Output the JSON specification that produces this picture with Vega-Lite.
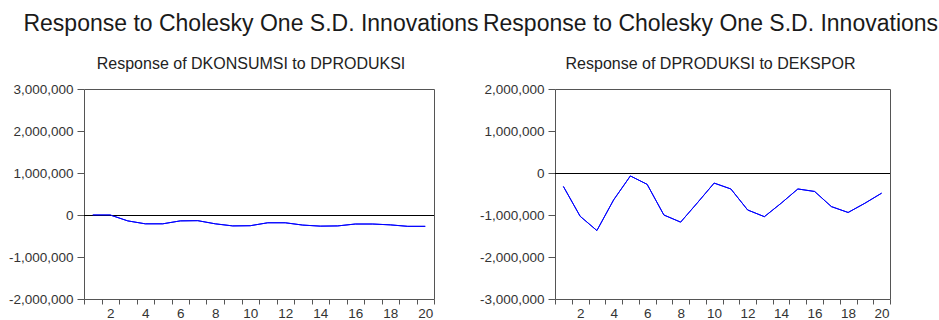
{
  "$schema": "https://vega.github.io/schema/vega-lite/v6.json",
  "background": "white",
  "padding": {"left": 7, "top": 12, "right": 2, "bottom": 0},
  "autosize": {"type": "pad"},
  "spacing": 121,
  "bounds": "flush",
  "config": {
    "font": "Liberation Sans",
    "view": {"stroke": "#555555", "strokeWidth": 1},
    "axis": {
      "grid": false,
      "domain": false,
      "labelFont": "Liberation Sans",
      "labelFontSize": 13.5,
      "labelColor": "#333333",
      "tickColor": "#555555",
      "title": null
    },
    "title": {
      "font": "Liberation Sans",
      "fontSize": 23,
      "fontWeight": "normal",
      "color": "#1a1a1a",
      "subtitleFont": "Liberation Sans",
      "subtitleFontSize": 16,
      "subtitleColor": "#222222",
      "anchor": "middle",
      "offset": 10,
      "subtitlePadding": 20
    }
  },
  "datasets": {
    "konsumsi": [
      {"period": 1, "response": 0},
      {"period": 2, "response": 0},
      {"period": 3, "response": -140000},
      {"period": 4, "response": -210000},
      {"period": 5, "response": -210000},
      {"period": 6, "response": -140000},
      {"period": 7, "response": -135000},
      {"period": 8, "response": -210000},
      {"period": 9, "response": -260000},
      {"period": 10, "response": -255000},
      {"period": 11, "response": -185000},
      {"period": 12, "response": -185000},
      {"period": 13, "response": -240000},
      {"period": 14, "response": -265000},
      {"period": 15, "response": -260000},
      {"period": 16, "response": -215000},
      {"period": 17, "response": -215000},
      {"period": 18, "response": -235000},
      {"period": 19, "response": -270000},
      {"period": 20, "response": -270000}
    ],
    "produksi": [
      {"period": 1, "response": -320000},
      {"period": 2, "response": -1030000},
      {"period": 3, "response": -1370000},
      {"period": 4, "response": -640000},
      {"period": 5, "response": -70000},
      {"period": 6, "response": -270000},
      {"period": 7, "response": -1000000},
      {"period": 8, "response": -1170000},
      {"period": 9, "response": -710000},
      {"period": 10, "response": -240000},
      {"period": 11, "response": -380000},
      {"period": 12, "response": -880000},
      {"period": 13, "response": -1040000},
      {"period": 14, "response": -720000},
      {"period": 15, "response": -380000},
      {"period": 16, "response": -440000},
      {"period": 17, "response": -800000},
      {"period": 18, "response": -940000},
      {"period": 19, "response": -720000},
      {"period": 20, "response": -480000}
    ]
  },
  "hconcat": [
    {
      "width": 350,
      "height": 210,
      "title": {"text": "Response to Cholesky One S.D. Innovations", "subtitle": "Response of DKONSUMSI to DPRODUKSI", "dx": -8},
      "layer": [
        {
          "data": {"name": "konsumsi"},
          "mark": {"type": "line", "color": "#0000ff", "strokeWidth": 1},
          "encoding": {
            "x": {
              "field": "period", "type": "quantitative",
              "scale": {"domain": [0.5, 20.5], "nice": false, "zero": false},
              "axis": {"orient": "bottom", "values": [0.5,1.5,2.5,3.5,4.5,5.5,6.5,7.5,8.5,9.5,10.5,11.5,12.5,13.5,14.5,15.5,16.5,17.5,18.5,19.5,20.5], "labels": false, "tickSize": 5}
            },
            "y": {
              "field": "response", "type": "quantitative",
              "scale": {"domain": [-2000000, 3000000], "nice": false, "zero": false},
              "axis": {"values": [-2000000,-1000000,0,1000000,2000000,3000000], "tickSize": 7, "labelPadding": 4, "labelExpr": "replace(format(datum.value, ','), '\u2212', '-')"}
            }
          }
        },
        {
          "data": {"name": "konsumsi"},
          "mark": {"type": "rule", "color": "#000000", "strokeWidth": 1, "yOffset": 0.5},
          "encoding": {"y": {"datum": 0}}
        },
        {
          "data": {"name": "konsumsi"},
          "mark": {"type": "line", "color": "#0000ff", "strokeWidth": 1},
          "encoding": {
            "x": {"field": "period", "type": "quantitative", "axis": {"orient": "bottom", "values": [2,4,6,8,10,12,14,16,18,20], "ticks": false, "tickSize": 0, "labelPadding": 7}},
            "y": {"field": "response", "type": "quantitative"}
          }
        }
      ],
      "resolve": {"axis": {"x": "independent"}}
    },
    {
      "width": 335,
      "height": 210,
      "title": {"text": "Response to Cholesky One S.D. Innovations", "subtitle": "Response of DPRODUKSI to DEKSPOR", "dx": -12},
      "layer": [
        {
          "data": {"name": "produksi"},
          "mark": {"type": "line", "color": "#0000ff", "strokeWidth": 1},
          "encoding": {
            "x": {
              "field": "period", "type": "quantitative",
              "scale": {"domain": [0.5, 20.5], "nice": false, "zero": false},
              "axis": {"orient": "bottom", "values": [0.5,1.5,2.5,3.5,4.5,5.5,6.5,7.5,8.5,9.5,10.5,11.5,12.5,13.5,14.5,15.5,16.5,17.5,18.5,19.5,20.5], "labels": false, "tickSize": 5}
            },
            "y": {
              "field": "response", "type": "quantitative",
              "scale": {"domain": [-3000000, 2000000], "nice": false, "zero": false},
              "axis": {"values": [-3000000,-2000000,-1000000,0,1000000,2000000], "tickSize": 7, "labelPadding": 4, "labelExpr": "replace(format(datum.value, ','), '\u2212', '-')"}
            }
          }
        },
        {
          "data": {"name": "produksi"},
          "mark": {"type": "rule", "color": "#000000", "strokeWidth": 1, "yOffset": 0.5},
          "encoding": {"y": {"datum": 0}}
        },
        {
          "data": {"name": "produksi"},
          "mark": {"type": "line", "color": "#0000ff", "strokeWidth": 1},
          "encoding": {
            "x": {"field": "period", "type": "quantitative", "axis": {"orient": "bottom", "values": [2,4,6,8,10,12,14,16,18,20], "ticks": false, "tickSize": 0, "labelPadding": 7}},
            "y": {"field": "response", "type": "quantitative"}
          }
        }
      ],
      "resolve": {"axis": {"x": "independent"}}
    }
  ]
}
